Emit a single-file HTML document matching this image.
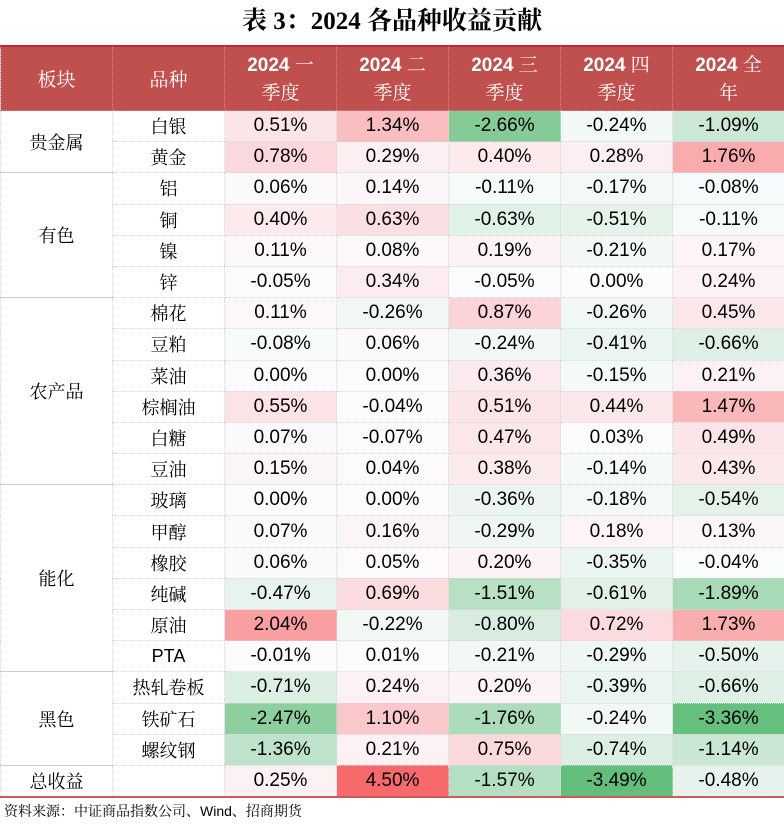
<!DOCTYPE html>
<html><head><meta charset="utf-8"><style>
body{margin:0;width:784px;height:829px;background:#fff;overflow:hidden;font-family:"Liberation Sans","Noto Serif CJK SC",sans-serif;}
.title{position:absolute;top:4px;left:0;width:784px;text-align:center;font-family:"Liberation Serif","Noto Serif CJK SC",serif;font-size:25px;font-weight:bold;color:#000;line-height:36px;}
table{position:absolute;top:45px;left:0;border-collapse:collapse;width:784px;table-layout:fixed;border-top:2px solid #c0273a;border-bottom:2px solid #d05a5a;}
td,th{padding:0;text-align:center;border:1px dotted #d8d8d8;}
th{background:#c0504d;color:#fff;height:63px;font-size:19px;line-height:26px;font-weight:bold;border-color:#d88;}
th.cn{font-family:"Noto Serif CJK SC",serif;font-weight:normal;}
th .s{font-family:"Noto Serif CJK SC",serif;font-weight:normal;}
td{height:30.2px;font-size:19px;color:#000;}
td.c{font-family:"Liberation Sans","Noto Serif CJK SC",serif;font-size:18px;background:#fff;}
.foot{position:absolute;top:801px;left:4px;font-family:"Liberation Sans","Noto Serif CJK SC",sans-serif;font-size:14px;}
</style></head><body>
<div class="title">表 3：2024 各品种收益贡献</div>
<table id="t">
<colgroup><col style="width:112px"><col style="width:112px"><col style="width:112px"><col style="width:112px"><col style="width:112px"><col style="width:112px"><col style="width:112px"></colgroup>
<tr><th class="cn">板块</th><th class="cn">品种</th><th>2024 <span class="s">一</span><br><span class="s">季度</span></th><th>2024 <span class="s">二</span><br><span class="s">季度</span></th><th>2024 <span class="s">三</span><br><span class="s">季度</span></th><th>2024 <span class="s">四</span><br><span class="s">季度</span></th><th>2024 <span class="s">全</span><br><span class="s">年</span></th></tr>
</table>
<div class="foot">资料来源：中证商品指数公司、Wind、招商期货</div>
<script>
var d=[["贵金属",[["白银",.51,1.34,-2.66,-.24,-1.09],["黄金",.78,.29,.40,.28,1.76]]],
["有色",[["铝",.06,.14,-.11,-.17,-.08],["铜",.40,.63,-.63,-.51,-.11],["镍",.11,.08,.19,-.21,.17],["锌",-.05,.34,-.05,0,.24]]],
["农产品",[["棉花",.11,-.26,.87,-.26,.45],["豆粕",-.08,.06,-.24,-.41,-.66],["菜油",0,0,.36,-.15,.21],["棕榈油",.55,-.04,.51,.44,1.47],["白糖",.07,-.07,.47,.03,.49],["豆油",.15,.04,.38,-.14,.43]]],
["能化",[["玻璃",0,0,-.36,-.18,-.54],["甲醇",.07,.16,-.29,.18,.13],["橡胶",.06,.05,.20,-.35,-.04],["纯碱",-.47,.69,-1.51,-.61,-1.89],["原油",2.04,-.22,-.80,.72,1.73],["PTA",-.01,.01,-.21,-.29,-.50]]],
["黑色",[["热轧卷板",-.71,.24,.20,-.39,-.66],["铁矿石",-2.47,1.10,-1.76,-.24,-3.36],["螺纹钢",-1.36,.21,.75,-.74,-1.14]]],
["总收益",[["",.25,4.50,-1.57,-3.49,-.48]]]];
function col(v){var w=[252,252,255],e,t;if(v>=0){e=[248,105,107];t=Math.min(1,v/3.2);}else{e=[99,190,123];t=Math.min(1,-v/3.4);}
return "rgb("+w.map(function(a,i){return Math.round(a+(e[i]-a)*t)}).join(",")+")";}
var h="";d.forEach(function(g){g[1].forEach(function(r,i){h+="<tr>";if(i==0)h+='<td class="c" rowspan="'+g[1].length+'" style="border-bottom:1px solid #ccc">'+g[0]+"</td>";
h+='<td class="c">'+r[0]+"</td>";for(var k=1;k<6;k++){var v=r[k];h+='<td style="background:'+col(v)+'">'+(v<0?"-":"")+Math.abs(v).toFixed(2)+"%</td>";}h+="</tr>";});});
document.getElementById("t").insertAdjacentHTML("beforeend",h);
</script>
</body></html>
